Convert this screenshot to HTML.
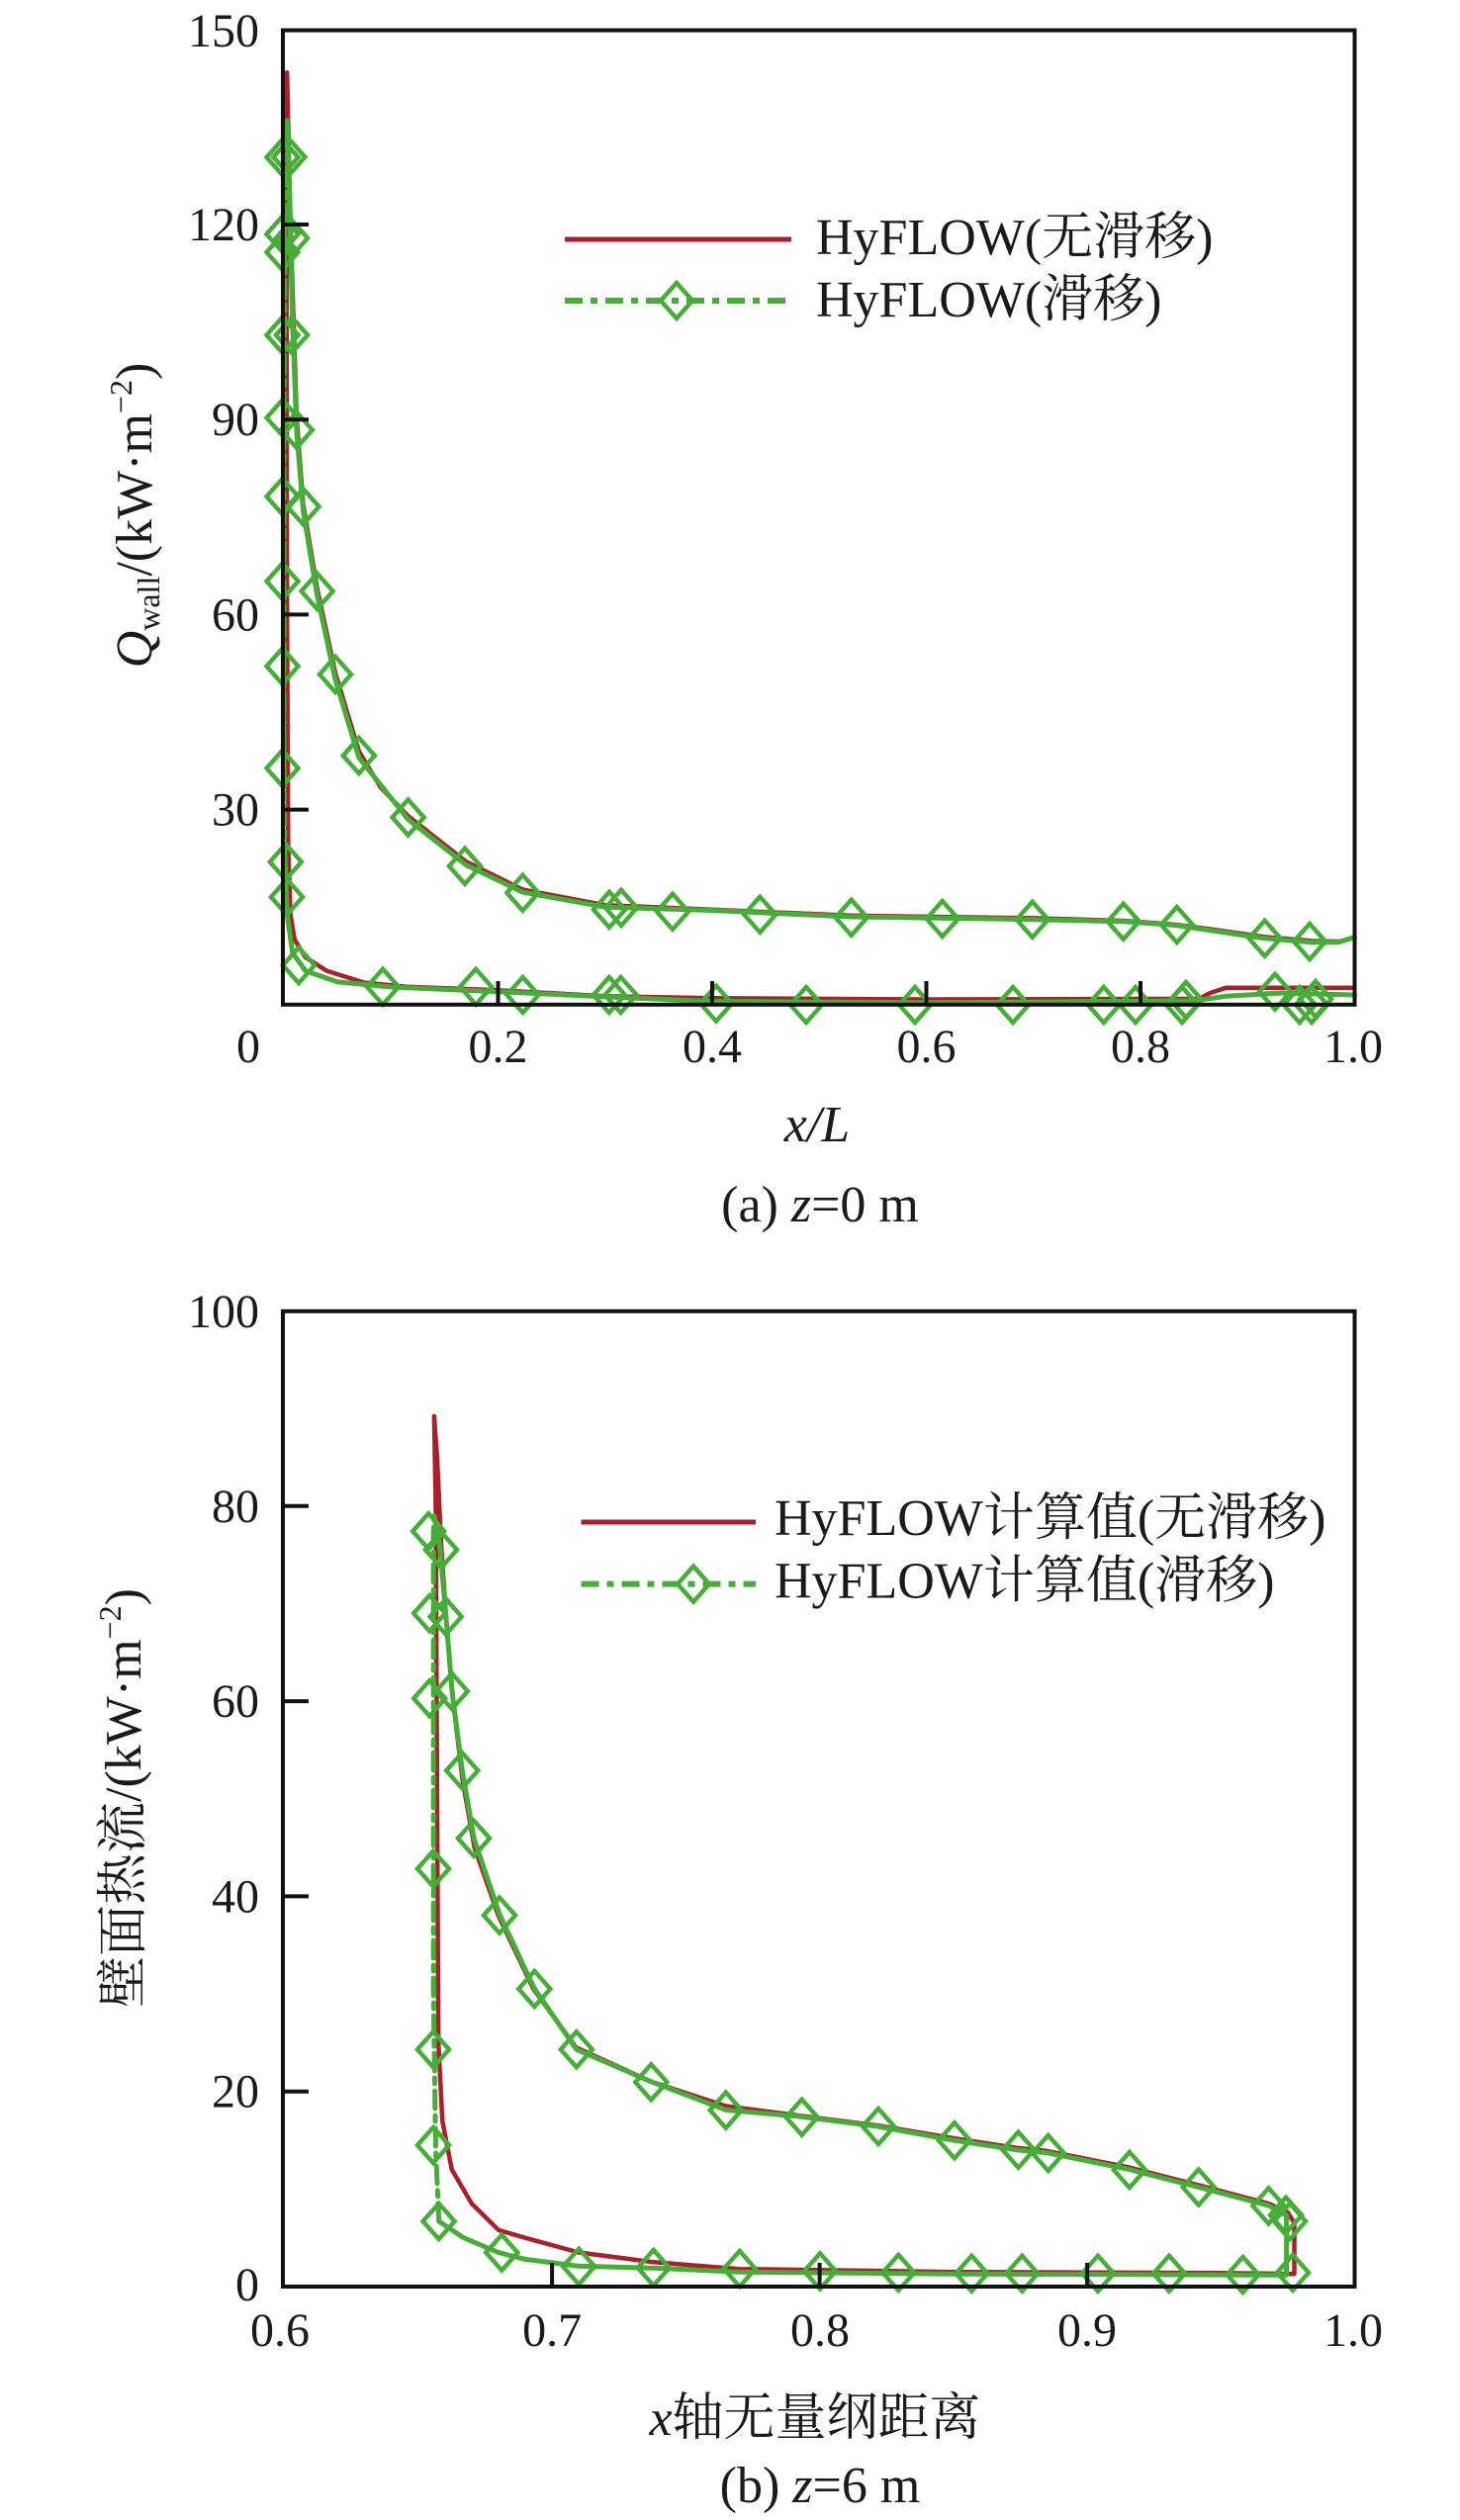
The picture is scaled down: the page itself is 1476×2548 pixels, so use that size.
<!DOCTYPE html>
<html><head><meta charset="utf-8"><style>
html,body{margin:0;padding:0;background:#fff;}
svg{display:block;}
text{font-family:"Liberation Serif","Noto Serif CJK SC",serif;fill:#1a1a1a;}
</style></head><body>
<svg width="1476" height="2548" viewBox="0 0 1476 2548" xmlns="http://www.w3.org/2000/svg">
<defs>
<polygon id="dm" points="0,-18 16,0 0,18 -16,0" fill="none" stroke="#46ad38" stroke-width="4.5"/>
</defs>
<rect width="1476" height="2548" fill="#fff"/>

<!-- ============ CHART A ============ -->
<g fill="none" stroke-linejoin="round" stroke-linecap="round">
<!-- red -->
<polyline stroke="#a8202a" stroke-width="4.5" points="1369.5,998.7 1239.6,998.7 1223.4,1004 1212.5,1009.9 936.5,1010.5 720,1009.2 611.8,1007.3 503.5,1001.3 411.5,997.7 368.2,993.5 330.3,981.6 308.7,967.8 297.8,950 293.5,923.8 291.3,851.5 290.2,621.4 289.7,292.8 290.2,73.2 292.4,174.5 295.7,292.8 300,424.2 306.5,509.7 320.6,595.1 339,680.6 362.8,759.5 384.4,795.6 412.6,825.2 471,871.2 528.4,899.5 611.8,915.2 720,919.8 860.7,925.8 1044.8,928.4 1135.7,931 1189.8,935 1228.8,940.2 1278.6,947.4 1326.2,951.4 1353.3,952 1369.5,948.1"/>
<!-- green solid parts -->
<polyline stroke="#46ad38" stroke-width="5" points="1369.5,1006 1293.7,1004 1239.6,1007.3 1207.1,1011.9 936.5,1013.8 720,1012.5 611.8,1007.9 503.5,1002.7 395.3,998 341.1,992.8 308.7,981.6 295.7,963.2 290.2,923.8 288.1,871.2"/>
<polyline stroke="#46ad38" stroke-width="5" stroke-dasharray="18 7 6 7" points="288.1,871.2 287,752.9 287,424.2 288.1,227 290.2,121.9"/>
<polyline stroke="#46ad38" stroke-width="5" points="290.2,121.9 292.4,187.6 295.7,325.6 300,437.4 306.5,516.3 320.6,601.7 339,687.2 362.8,766 412.6,828.5 471,874.5 528.4,902.1 611.8,917.2 720,920.5 860.7,927 1044.8,929.7 1135.7,931.7 1189.8,935.6 1228.8,941.5 1278.6,948.8 1326.2,952.7 1353.3,952.7 1369.5,947.4"/>
</g>
<!-- markers A -->
<g>
<use href="#dm" x="292.4" y="158.7"/><use href="#dm" x="295" y="240.8"/><use href="#dm" x="295" y="338.8"/><use href="#dm" x="299.8" y="434.7"/><use href="#dm" x="306.5" y="512.3"/><use href="#dm" x="320.6" y="597.8"/><use href="#dm" x="339" y="681.9"/><use href="#dm" x="362.8" y="764"/><use href="#dm" x="412.6" y="826.5"/><use href="#dm" x="470" y="875.8"/><use href="#dm" x="528.4" y="902.7"/><use href="#dm" x="616" y="919.8"/><use href="#dm" x="628" y="917.9"/><use href="#dm" x="680" y="921.8"/><use href="#dm" x="768.3" y="924.7"/><use href="#dm" x="860.7" y="927.7"/><use href="#dm" x="952.7" y="929"/><use href="#dm" x="1043.7" y="929.7"/><use href="#dm" x="1135.7" y="931.7"/><use href="#dm" x="1189.8" y="935"/><use href="#dm" x="1278.6" y="948.8"/><use href="#dm" x="1324" y="952"/>
<use href="#dm" x="285.5" y="159"/><use href="#dm" x="285.5" y="236.7"/><use href="#dm" x="285.5" y="255"/><use href="#dm" x="285.5" y="338.8"/><use href="#dm" x="285.5" y="422.4"/><use href="#dm" x="285.5" y="502"/><use href="#dm" x="285.5" y="587.8"/><use href="#dm" x="285.5" y="673.6"/><use href="#dm" x="285.5" y="776.8"/><use href="#dm" x="288.8" y="871.5"/><use href="#dm" x="290" y="907"/><use href="#dm" x="302" y="976"/><use href="#dm" x="387" y="997.7"/><use href="#dm" x="481" y="997.7"/><use href="#dm" x="528.5" y="1006"/><use href="#dm" x="615.8" y="1006"/><use href="#dm" x="627.6" y="1006"/><use href="#dm" x="724" y="1014.6"/><use href="#dm" x="815" y="1016"/><use href="#dm" x="925" y="1016"/><use href="#dm" x="1024" y="1016"/><use href="#dm" x="1115.8" y="1016"/><use href="#dm" x="1148" y="1016"/><use href="#dm" x="1195" y="1016"/><use href="#dm" x="1199" y="1011"/><use href="#dm" x="1289" y="1002.7"/><use href="#dm" x="1313.8" y="1016"/><use href="#dm" x="1326" y="1016"/><use href="#dm" x="1330" y="1010"/>
</g>
<!-- frame A -->
<rect x="286" y="30.6" width="1083.5" height="985.2" fill="none" stroke="#111" stroke-width="4"/>
<g stroke="#111" stroke-width="4">
<line x1="286" y1="818.6" x2="312" y2="818.6"/><line x1="286" y1="621.4" x2="312" y2="621.4"/><line x1="286" y1="424.2" x2="312" y2="424.2"/><line x1="286" y1="227" x2="312" y2="227"/>
<line x1="503.5" y1="1015.8" x2="503.5" y2="992"/><line x1="720" y1="1015.8" x2="720" y2="992"/><line x1="936.5" y1="1015.8" x2="936.5" y2="992"/><line x1="1153" y1="1015.8" x2="1153" y2="992"/>
</g>
<g font-size="48" text-anchor="end">
<text x="262" y="47">150</text><text x="262" y="243">120</text><text x="262" y="440">90</text><text x="262" y="637.5">60</text><text x="262" y="834.6">30</text>
</g>
<g font-size="48" text-anchor="middle">
<text x="251" y="1074">0</text><text x="503.5" y="1074">0.2</text><text x="720" y="1074">0.4</text><text x="936.5" y="1074">0.6</text><text x="1153" y="1074">0.8</text><text x="1368" y="1074">1.0</text>
</g>
<!-- legend A -->
<line x1="571" y1="242" x2="800" y2="242" stroke="#a8202a" stroke-width="5"/>
<line x1="571" y1="304" x2="800" y2="304" stroke="#46ad38" stroke-width="6" stroke-dasharray="18 8 7 8"/>
<use href="#dm" x="684" y="304"/>
<text x="825" y="257" font-size="52">HyFLOW(无滑移)</text>
<text x="825" y="320" font-size="52">HyFLOW(滑移)</text>
<!-- axis titles A -->
<text transform="translate(153,521) rotate(-90)" text-anchor="middle" font-size="52"><tspan font-style="italic">Q</tspan><tspan font-size="32" dy="8">wall</tspan><tspan dy="-8">/(kW·m</tspan><tspan font-size="32" dy="-20">−2</tspan><tspan dy="20">)</tspan></text>
<text x="826" y="1154" text-anchor="middle" font-size="52" font-style="italic">x/L</text>
<text x="829" y="1235" text-anchor="middle" font-size="52">(a) <tspan font-style="italic">z</tspan>=0 m</text>

<!-- ============ CHART B ============ -->
<g fill="none" stroke-linejoin="round" stroke-linecap="round">
<polyline stroke="#a8202a" stroke-width="4.5" points="1308.5,2299.2 1234.4,2298.2 963.9,2297.2 747.5,2294.2 660.9,2287.3 585.1,2277.5 531,2262.7 504,2254.8 476.9,2228.1 456.7,2193.6 447.2,2144.3 443.2,2065.4 441.9,1818.8 440.5,1522.8 438.9,1432 441.9,1473.5 446,1562.3 451.4,1641.2 458.1,1720.1 467.5,1799 479.7,1868.1 504,1937.1 539.2,2011.1 582.5,2070.3 658.3,2104.8 733.9,2129.5 809.7,2139.4 888.1,2149.2 963.9,2162 1028.8,2171.9 1058.5,2174.9 1141.8,2191.6 1211.6,2209.4 1282.5,2228.1 1302,2237 1308.5,2247.9 1308.5,2299.2"/>
<polyline stroke="#46ad38" stroke-width="5" points="1300.6,2300.2 1261.4,2300.2 963.9,2299.2 747.5,2297.2 660.9,2293.3 585.1,2291.3 531,2284.4 504,2277.5 468.8,2262.7 443.7,2245.9"/>
<polyline stroke="#46ad38" stroke-width="5" stroke-dasharray="18 7 6 7" points="443.7,2245.9 440.5,2173.9 438.2,2016 438.2,1720.1 438.2,1552.4 438.9,1532.7"/>
<polyline stroke="#46ad38" stroke-width="5" points="438.9,1532.7 444.6,1562.3 450.8,1634.3 457,1710.2 467.3,1790.1 479.2,1859.2 505.2,1936.1 540.4,2011.1 582.9,2072.3 658.3,2104.8 733.9,2133.4 810.7,2140.3 888.1,2150.2 963.9,2164 1028.8,2173.9 1059.6,2176.9 1141.8,2193.6 1211.6,2211.4 1282.5,2230.1 1300.6,2240 1300.6,2300.2"/>
</g>
<g>
<use href="#dm" x="433.2" y="1548.3"/><use href="#dm" x="434.2" y="1631.3"/><use href="#dm" x="434.2" y="1717.2"/><use href="#dm" x="438" y="1889.5"/><use href="#dm" x="438" y="2072.3"/><use href="#dm" x="438" y="2169"/><use href="#dm" x="443.6" y="2246"/><use href="#dm" x="507.3" y="2277.6"/><use href="#dm" x="585.2" y="2291.7"/><use href="#dm" x="660.7" y="2293"/>
<use href="#dm" x="446" y="1567"/><use href="#dm" x="450.7" y="1634.6"/><use href="#dm" x="456.8" y="1710"/><use href="#dm" x="467.2" y="1790.3"/><use href="#dm" x="479" y="1858.8"/><use href="#dm" x="505" y="1936.6"/><use href="#dm" x="540.3" y="2011"/><use href="#dm" x="582.8" y="2072.3"/><use href="#dm" x="658.3" y="2105.3"/><use href="#dm" x="733.8" y="2133.6"/><use href="#dm" x="810.6" y="2140.7"/><use href="#dm" x="888" y="2150"/><use href="#dm" x="964.9" y="2164.3"/><use href="#dm" x="1029.5" y="2173.7"/><use href="#dm" x="1059.7" y="2177"/><use href="#dm" x="1141.9" y="2194"/><use href="#dm" x="1211.7" y="2211.5"/><use href="#dm" x="1282.5" y="2230.4"/><use href="#dm" x="1300" y="2239.8"/><use href="#dm" x="1304" y="2246"/>
<use href="#dm" x="747.7" y="2294"/><use href="#dm" x="829" y="2296.4"/><use href="#dm" x="908.3" y="2297.9"/><use href="#dm" x="982.3" y="2298.8"/><use href="#dm" x="1033.3" y="2298.8"/><use href="#dm" x="1110" y="2298.8"/><use href="#dm" x="1182" y="2298.8"/><use href="#dm" x="1256.5" y="2300"/><use href="#dm" x="1307" y="2297.9"/>
</g>
<rect x="286" y="1325.8" width="1083.5" height="986.2" fill="none" stroke="#111" stroke-width="4"/>
<g stroke="#111" stroke-width="4">
<line x1="286" y1="2114.7" x2="312" y2="2114.7"/><line x1="286" y1="1917.4" x2="312" y2="1917.4"/><line x1="286" y1="1720.1" x2="312" y2="1720.1"/><line x1="286" y1="1522.8" x2="312" y2="1522.8"/>
<line x1="558.1" y1="2312" x2="558.1" y2="2288"/><line x1="828.6" y1="2312" x2="828.6" y2="2288"/><line x1="1099.1" y1="2312" x2="1099.1" y2="2288"/>
</g>
<g font-size="48" text-anchor="end">
<text x="262" y="1342">100</text><text x="262" y="1539">80</text><text x="262" y="1736">60</text><text x="262" y="1933.4">40</text><text x="262" y="2130.7">20</text><text x="262" y="2326">0</text>
</g>
<g font-size="48" text-anchor="middle">
<text x="283" y="2372">0.6</text><text x="558.1" y="2372">0.7</text><text x="829" y="2372">0.8</text><text x="1099" y="2372">0.9</text><text x="1368" y="2372">1.0</text>
</g>
<!-- legend B -->
<line x1="587.5" y1="1539" x2="764" y2="1539" stroke="#a8202a" stroke-width="5"/>
<line x1="587.5" y1="1601.6" x2="764" y2="1601.6" stroke="#46ad38" stroke-width="6" stroke-dasharray="18 8 7 8"/>
<use href="#dm" x="701" y="1601.6"/>
<text x="783" y="1552" font-size="52">HyFLOW计算值(无滑移)</text>
<text x="783" y="1615.7" font-size="52">HyFLOW计算值(滑移)</text>
<!-- axis titles B -->
<text transform="translate(142,1818) rotate(-90)" text-anchor="middle" font-size="52">壁面热流/(kW·m<tspan font-size="32" dy="-20">−2</tspan><tspan dy="20">)</tspan></text>
<text x="824" y="2462" text-anchor="middle" font-size="52"><tspan font-style="italic">x</tspan>轴无量纲距离</text>
<text x="829" y="2530" text-anchor="middle" font-size="52">(b) <tspan font-style="italic">z</tspan>=6 m</text>
</svg>
</body></html>
